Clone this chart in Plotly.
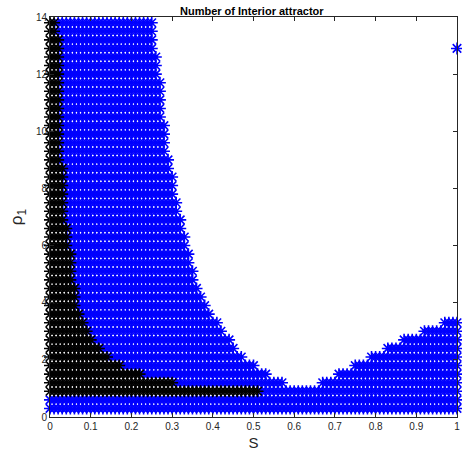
import numpy as np
import plotly.graph_objects as go

# Sampling grid of S (x) and rho_1 rows (y)
S_grid = np.round(np.linspace(0.0, 1.0, 101), 2)
rho_rows = [0.3, 0.6, 0.9, 1.2, 1.5, 1.8, 2.1, 2.4, 2.7, 3.0,
            3.3, 3.6, 3.9, 4.2, 4.5, 4.8, 5.1, 5.4, 5.7, 6.0,
            6.3, 6.6, 6.9, 7.2, 7.5, 7.8, 8.1, 8.4, 8.7, 9.0,
            9.3, 9.6, 9.9, 10.2, 10.5, 10.8, 11.1, 11.4, 11.7, 12.0,
            12.3, 12.6, 12.9, 13.2, 13.5, 13.8]

# Right edge of the left blue lobe for each row
blue_left_edge = [1.00, 1.00, 1.00, 0.57, 0.53, 0.50, 0.47, 0.45, 0.44, 0.42,
                  0.41, 0.39, 0.38, 0.37, 0.36, 0.35, 0.35, 0.34, 0.34, 0.33,
                  0.33, 0.32, 0.32, 0.31, 0.31, 0.30, 0.30, 0.30, 0.29, 0.29,
                  0.28, 0.28, 0.28, 0.28, 0.27, 0.27, 0.27, 0.27, 0.27, 0.26,
                  0.26, 0.26, 0.25, 0.25, 0.25, 0.25]
# Left edge of the right blue lobe (None = no right lobe)
blue_right_start = [None, None, None, 0.67, 0.71, 0.75, 0.79, 0.83, 0.87, 0.92,
                    0.97] + [None] * 35
# Right edge of the black region (None = no black)
black_edge = [None, None, 0.51, 0.30, 0.22, 0.17, 0.14, 0.12, 0.10, 0.09,
              0.08, 0.07, 0.06, 0.06, 0.06, 0.05, 0.05, 0.05, 0.05, 0.04,
              0.04, 0.04] + [0.03] * 7 + [0.02] * 15 + [0.01, 0.01]
# isolated blue point
extra_S = [1.0]
extra_rho = [12.9]

assert len(rho_rows) == len(blue_left_edge) == len(blue_right_start) == len(black_edge)

bx, by, kx, ky = [], [], [], []
for r, le, rs, be in zip(rho_rows, blue_left_edge, blue_right_start, black_edge):
    for s in S_grid:
        if be is not None and s <= be + 1e-9:
            kx.append(s); ky.append(r)
        elif s <= le + 1e-9 or (rs is not None and s >= rs - 1e-9):
            bx.append(s); by.append(r)
bx += extra_S
by += extra_rho

fig = go.Figure()
fig.add_trace(go.Scatter(x=bx, y=by, mode="markers", cliponaxis=False,
                         marker=dict(symbol="asterisk-open", size=10, color="#0000ff",
                                     line=dict(color="#0000ff", width=1.6)),
                         hoverinfo="skip"))
fig.add_trace(go.Scatter(x=kx, y=ky, mode="markers", cliponaxis=False,
                         marker=dict(symbol="asterisk-open", size=10, color="#000000",
                                     line=dict(color="#000000", width=1.6)),
                         hoverinfo="skip"))

axis_common = dict(showgrid=False, zeroline=False, showline=True, linecolor="#262626",
                   linewidth=1, mirror="ticks", ticks="inside", ticklen=4,
                   tickcolor="#262626", ticklabeloverflow="allow",
                   tickfont=dict(family="Liberation Sans", size=10, color="#262626"))
fig.update_layout(
    width=462, height=456, margin=dict(l=50, r=2, t=17, b=39),
    paper_bgcolor="white", plot_bgcolor="white", showlegend=False,
    title=dict(text="<b>Number of Interior attractor</b>", x=0.545, xanchor="center",
               y=0.985, yanchor="top",
               font=dict(family="Liberation Sans", size=11, color="#000000")),
    xaxis=dict(range=[0, 1], tickvals=[0, 0.1, 0.2, 0.3, 0.4, 0.5, 0.6, 0.7, 0.8, 0.9, 1],
               ticktext=["0", "0.1", "0.2", "0.3", "0.4", "0.5", "0.6", "0.7", "0.8", "0.9", "1"],
               title=dict(text="S", font=dict(family="Liberation Sans", size=15, color="#262626"),
                          standoff=6),
               **axis_common),
    yaxis=dict(range=[0, 14], tickvals=[0, 2, 4, 6, 8, 10, 12, 14],
               title=dict(text="ρ<sub>1</sub>", font=dict(family="Liberation Sans", size=17, color="#262626"),
                          standoff=8),
               **axis_common),
)
fig.write_html("out.html")
